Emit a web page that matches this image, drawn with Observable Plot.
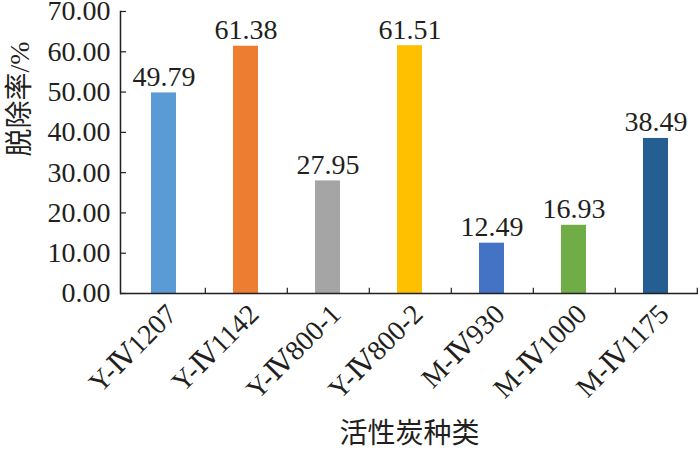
<!DOCTYPE html>
<html><head><meta charset="utf-8">
<script src="https://cdn.jsdelivr.net/npm/d3@7"></script>
<script src="https://cdn.jsdelivr.net/npm/@observablehq/plot@0.6"></script>
<style>
body{margin:0;background:#fff;}
</style>
</head><body><div id="chart"></div>
<script>
const categories = ["Y-Ⅳ1207","Y-Ⅳ1142","Y-Ⅳ800-1","Y-Ⅳ800-2","M-Ⅳ930","M-Ⅳ1000","M-Ⅳ1175"];
const values = [49.79, 61.38, 27.95, 61.51, 12.49, 16.93, 38.49];
const colors = ["#5B9BD5","#ED7D31","#A5A5A5","#FFC000","#4472C4","#70AD47","#255E91"];
const yTicks = [0,10,20,30,40,50,60,70];
const xTitle = "活性炭种类";
const yTitle = "脱除率/%";

const data = categories.map((c,i)=>({cat:c, v:values[i], color:colors[i]}));
const font = "'Liberation Serif','DejaVu Serif','Noto Sans CJK SC',serif";

const chart = Plot.plot({
  width: 700, height: 450,
  marginLeft: 120, marginRight: 2, marginTop: 11, marginBottom: 157,
  style: {fontFamily: font, fontSize: "28px", color: "#231f20", background: "#fff"},
  x: {domain: categories, paddingInner: 0.7, paddingOuter: 0.35, label: null},
  y: {domain: [0,70], label: null},
  marks: [
    Plot.barY(data, {x: "cat", y: "v", fill: "color"}),
    Plot.text(data, {x: "cat", y: "v", text: d => d.v.toFixed(2), lineAnchor: "bottom", dy: -7, fontSize: 28, fill: "#231f20"}),
    Plot.ruleY([0], {stroke: "#231f20", strokeWidth: 1.5}),
    Plot.ruleX(data, {x: "cat", y1: 0, y2: 1.3, dx: 41.3, stroke: "#231f20", strokeWidth: 1.2}),
    Plot.axisY({ticks: yTicks, anchor: "left", tickSize: 6, dx: 6, tickFormat: () => "", label: null, stroke: "#231f20", strokeWidth: 1.2}),
    Plot.axisY({ticks: yTicks, anchor: "left", tickFormat: d => d.toFixed(2), tickSize: 0, tickPadding: 10, fontSize: 28, label: null, fill: "#231f20"}),
    Plot.frame({anchor: "left", stroke: "#231f20", strokeWidth: 1.5}),
    Plot.axisX({tickSize: 0, tickRotate: -45, tickPadding: 16, dx: 8, fontSize: 28, label: null, fill: "#231f20"}),
    Plot.text([xTitle], {frameAnchor: "bottom", dy: 141, fontSize: 28, lineAnchor: "middle", fill: "#231f20"}),
    Plot.text([yTitle], {frameAnchor: "left", dx: -100, dy: 4, rotate: -90, fontSize: 28, lineAnchor: "middle", fill: "#231f20"})
  ]
});
document.getElementById("chart").appendChild(chart);
</script>
</body></html>
